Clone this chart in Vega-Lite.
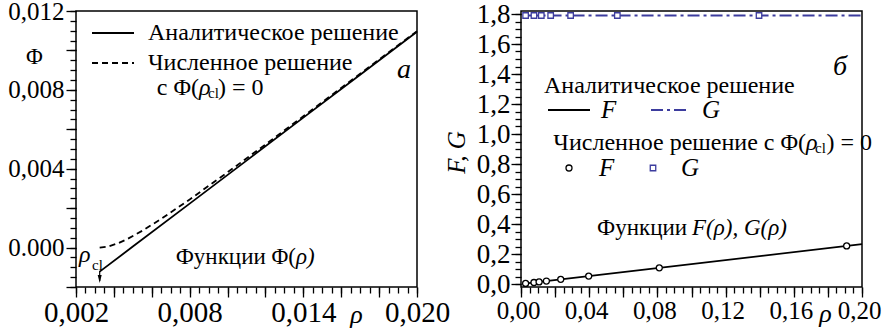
{
  "$schema": "https://vega.github.io/schema/vega-lite/v6.json",
  "autosize": {"type": "pad"},
  "padding": {"left": 7, "top": -2, "right": 0, "bottom": 0},
  "bounds": "flush",
  "spacing": 104,
  "datasets": {
    "phiAnalytic": [
      {"rho": 0.00325, "phi": -0.00122},
      {"rho": 0.005, "phi": 0.00005},
      {"rho": 0.008, "phi": 0.00223},
      {"rho": 0.011, "phi": 0.00441},
      {"rho": 0.014, "phi": 0.00659},
      {"rho": 0.017, "phi": 0.00877},
      {"rho": 0.020, "phi": 0.01095}
    ],
    "phiNumeric": [
      {"rho": 0.00325, "phi": 0.0},
      {"rho": 0.0037, "phi": 0.000056},
      {"rho": 0.0042, "phi": 0.000211},
      {"rho": 0.0047, "phi": 0.000429},
      {"rho": 0.0055, "phi": 0.000852},
      {"rho": 0.0065, "phi": 0.001456},
      {"rho": 0.008, "phi": 0.00244},
      {"rho": 0.010, "phi": 0.00382},
      {"rho": 0.012, "phi": 0.00523},
      {"rho": 0.014, "phi": 0.00666},
      {"rho": 0.017, "phi": 0.00882},
      {"rho": 0.020, "phi": 0.01098}
    ],
    "fAnalytic": [
      {"rho": 0.00325, "F": 0.0043},
      {"rho": 0.2, "F": 0.266}
    ],
    "gAnalytic": [
      {"rho": 0.00325, "G": 1.79},
      {"rho": 0.2, "G": 1.79}
    ],
    "fNumeric": [
      {"rho": 0.0027, "F": 0.0036},
      {"rho": 0.0076, "F": 0.0101},
      {"rho": 0.0106, "F": 0.0141},
      {"rho": 0.0149, "F": 0.0198},
      {"rho": 0.0233, "F": 0.0310},
      {"rho": 0.0397, "F": 0.0528},
      {"rho": 0.0811, "F": 0.1079},
      {"rho": 0.1910, "F": 0.2540}
    ],
    "gNumeric": [
      {"rho": 0.0027, "G": 1.79},
      {"rho": 0.0076, "G": 1.79},
      {"rho": 0.0119, "G": 1.79},
      {"rho": 0.0174, "G": 1.79},
      {"rho": 0.0291, "G": 1.79},
      {"rho": 0.0565, "G": 1.79},
      {"rho": 0.1396, "G": 1.79}
    ]
  },
  "hconcat": [
    {
      "width": 341,
      "height": 276,
      "data": {"values": [{}]},
      "layer": [
        {
          "data": {"name": "phiAnalytic"},
          "mark": {"type": "line", "color": "#000", "strokeWidth": 1.8},
          "encoding": {
            "x": {"field": "rho", "type": "quantitative",
              "scale": {"domain": [0.002, 0.020], "nice": false, "zero": false},
              "axis": {"orient": "bottom", "values": [0.002, 0.004, 0.006, 0.008, 0.01, 0.012, 0.014, 0.016, 0.018, 0.02],
                "tickSize": 10, "labelFontSize": 29, "labelPadding": 1,
                "labelExpr": "round(datum.value*1000) % 6 == 2 ? replace(format(datum.value, '.3f'), '.', ',') : ''",
                "title": "ρ", "titleFontStyle": "italic", "titleFontSize": 26, "titleX": 280, "titleY": 35,
                "titleAlign": "center", "titleBaseline": "alphabetic"}},
            "y": {"field": "phi", "type": "quantitative",
              "scale": {"domain": [-0.002, 0.012], "nice": false, "zero": false},
              "axis": {"orient": "left", "values": [-0.002, 0, 0.002, 0.004, 0.006, 0.008, 0.01, 0.012],
                "tickSize": 10, "labelFontSize": 25, "labelPadding": 2,
                "labelExpr": "datum.value == 0 ? '0.000' : (datum.value > 0 && round(datum.value*1000) % 4 == 0 ? replace(format(datum.value, '.3f'), '.', ',') : '')",
                "title": "Φ", "titleAngle": 0, "titleFontSize": 23, "titleX": -42, "titleY": 45,
                "titleAlign": "center", "titleBaseline": "middle"}}
          }
        },
        {
          "data": {"name": "phiNumeric"},
          "mark": {"type": "line", "color": "#000", "strokeWidth": 1.8, "strokeDash": [6, 4]},
          "encoding": {
            "x": {"field": "rho", "type": "quantitative",
              "axis": {"orient": "bottom", "tickSize": 6, "labels": false, "title": null,
                "values": [0.002,0.0025,0.003,0.0035,0.004,0.0045,0.005,0.0055,0.006,0.0065,0.007,0.0075,0.008,0.0085,0.009,0.0095,0.01,0.0105,0.011,0.0115,0.012,0.0125,0.013,0.0135,0.014,0.0145,0.015,0.0155,0.016,0.0165,0.017,0.0175,0.018,0.0185,0.019,0.0195,0.02]}},
            "y": {"field": "phi", "type": "quantitative",
              "axis": {"orient": "left", "tickSize": 6, "labels": false, "title": null,
                "values": [-0.002,-0.0015,-0.001,-0.0005,0,0.0005,0.001,0.0015,0.002,0.0025,0.003,0.0035,0.004,0.0045,0.005,0.0055,0.006,0.0065,0.007,0.0075,0.008,0.0085,0.009,0.0095,0.01,0.0105,0.011,0.0115,0.012]}}
          }
        },
        {
          "mark": {"type": "rule", "color": "#000", "strokeWidth": 1.8},
          "encoding": {
            "x": {"datum": 0.002845, "type": "quantitative", "axis": null},
            "x2": {"datum": 0.005062},
            "y": {"datum": 0.010884, "type": "quantitative", "axis": null}
          }
        },
        {
          "mark": {"type": "rule", "color": "#000", "strokeWidth": 1.8, "strokeDash": [6, 4]},
          "encoding": {
            "x": {"datum": 0.002845, "type": "quantitative", "axis": null},
            "x2": {"datum": 0.005062},
            "y": {"datum": 0.009362, "type": "quantitative", "axis": null}
          }
        },
        {
          "mark": {"type": "text", "text": "Аналитическое решение", "align": "left", "baseline": "middle", "fontSize": 24, "color": "#000"},
          "encoding": {"x": {"datum": 0.0058, "type": "quantitative", "axis": null}, "y": {"datum": 0.010884, "type": "quantitative", "axis": null}}
        },
        {
          "mark": {"type": "text", "text": "Численное решение", "align": "left", "baseline": "middle", "fontSize": 24, "color": "#000"},
          "encoding": {"x": {"datum": 0.0058, "type": "quantitative", "axis": null}, "y": {"datum": 0.009362, "type": "quantitative", "axis": null}}
        },
        {
          "mark": {"type": "text", "text": "с Φ(", "align": "right", "baseline": "middle", "fontSize": 24, "color": "#000"},
          "encoding": {"x": {"datum": 0.008493, "type": "quantitative", "axis": null}, "y": {"datum": 0.008094, "type": "quantitative", "axis": null}}
        },
        {
          "mark": {"type": "text", "text": "ρ", "align": "left", "baseline": "middle", "fontSize": 24, "fontStyle": "italic", "color": "#000"},
          "encoding": {"x": {"datum": 0.008493, "type": "quantitative", "axis": null}, "y": {"datum": 0.008094, "type": "quantitative", "axis": null}}
        },
        {
          "mark": {"type": "text", "text": "cl", "align": "left", "baseline": "middle", "fontSize": 15, "color": "#000"},
          "encoding": {"x": {"datum": 0.008968, "type": "quantitative", "axis": null}, "y": {"datum": 0.00784, "type": "quantitative", "axis": null}}
        },
        {
          "mark": {"type": "text", "text": ") = 0", "align": "left", "baseline": "middle", "fontSize": 24, "color": "#000"},
          "encoding": {"x": {"datum": 0.009496, "type": "quantitative", "axis": null}, "y": {"datum": 0.008094, "type": "quantitative", "axis": null}}
        },
        {
          "mark": {"type": "text", "text": "a", "align": "center", "baseline": "middle", "fontSize": 28, "fontStyle": "italic", "color": "#000"},
          "encoding": {"x": {"datum": 0.019314, "type": "quantitative", "axis": null}, "y": {"datum": 0.009007, "type": "quantitative", "axis": null}}
        },
        {
          "mark": {"type": "text", "text": "Функции Φ(", "align": "right", "baseline": "middle", "fontSize": 23, "color": "#000"},
          "encoding": {"x": {"datum": 0.013613, "type": "quantitative", "axis": null}, "y": {"datum": -0.000478, "type": "quantitative", "axis": null}}
        },
        {
          "mark": {"type": "text", "text": "ρ)", "align": "left", "baseline": "middle", "fontSize": 23, "fontStyle": "italic", "color": "#000"},
          "encoding": {"x": {"datum": 0.013613, "type": "quantitative", "axis": null}, "y": {"datum": -0.000478, "type": "quantitative", "axis": null}}
        },
        {
          "mark": {"type": "text", "text": "ρ", "align": "left", "baseline": "alphabetic", "fontSize": 24, "fontStyle": "italic", "color": "#000"},
          "encoding": {"x": {"datum": 0.002158, "type": "quantitative", "axis": null}, "y": {"datum": -0.000732, "type": "quantitative", "axis": null}}
        },
        {
          "mark": {"type": "text", "text": "cl", "align": "left", "baseline": "alphabetic", "fontSize": 15, "color": "#000"},
          "encoding": {"x": {"datum": 0.002845, "type": "quantitative", "axis": null}, "y": {"datum": -0.001138, "type": "quantitative", "axis": null}}
        },
        {
          "mark": {"type": "rule", "color": "#000", "strokeWidth": 1.2},
          "encoding": {
            "x": {"datum": 0.00325, "type": "quantitative", "axis": null},
            "y": {"datum": -0.00119, "type": "quantitative", "axis": null},
            "y2": {"datum": -0.0017}
          }
        },
        {
          "mark": {"type": "point", "shape": "M-0.5,-1L0.5,-1L0,1Z", "size": 64, "filled": true, "color": "#000", "opacity": 1},
          "encoding": {"x": {"datum": 0.00325, "type": "quantitative", "axis": null}, "y": {"datum": -0.001594, "type": "quantitative", "axis": null}}
        }
      ],
      "resolve": {"axis": {"x": "independent", "y": "independent"}}
    },
    {
      "width": 341,
      "height": 276,
      "data": {"values": [{}]},
      "layer": [
        {
          "data": {"name": "fAnalytic"},
          "mark": {"type": "line", "color": "#000", "strokeWidth": 1.8},
          "encoding": {
            "x": {"field": "rho", "type": "quantitative",
              "scale": {"domain": [0, 0.2], "nice": false, "zero": false},
              "axis": {"orient": "bottom", "values": [0, 0.02, 0.04, 0.06, 0.08, 0.1, 0.12, 0.14, 0.16, 0.18, 0.2],
                "tickSize": 10, "labelFontSize": 25, "labelPadding": 1, "labelOffset": -3,
                "labelExpr": "round(datum.value*100) % 4 == 0 ? replace(format(datum.value, '.2f'), '.', ',') : ''",
                "title": "ρ", "titleFontStyle": "italic", "titleFontSize": 26, "titleX": 304, "titleY": 34,
                "titleAlign": "center", "titleBaseline": "alphabetic"}},
            "y": {"field": "F", "type": "quantitative",
              "scale": {"domain": [-0.02, 1.82], "nice": false, "zero": false},
              "axis": {"orient": "left", "values": [0, 0.2, 0.4, 0.6, 0.8, 1.0, 1.2, 1.4, 1.6, 1.8],
                "tickSize": 10, "labelFontSize": 27, "labelPadding": 1,
                "labelExpr": "replace(format(datum.value, '.1f'), '.', ',')",
                "title": "F, G", "titleFontStyle": "italic", "titleAngle": -90, "titleFontSize": 25, "titleX": -65, "titleY": 141,
                "titleAlign": "center", "titleBaseline": "middle"}}
          }
        },
        {
          "data": {"name": "gAnalytic"},
          "mark": {"type": "line", "color": "#3c3c9e", "strokeWidth": 1.8, "strokeDash": [12, 4, 3, 4]},
          "encoding": {
            "x": {"field": "rho", "type": "quantitative",
              "axis": {"orient": "bottom", "tickSize": 6, "labels": false, "title": null,
                "values": [0,0.005,0.01,0.015,0.02,0.025,0.03,0.035,0.04,0.045,0.05,0.055,0.06,0.065,0.07,0.075,0.08,0.085,0.09,0.095,0.1,0.105,0.11,0.115,0.12,0.125,0.13,0.135,0.14,0.145,0.15,0.155,0.16,0.165,0.17,0.175,0.18,0.185,0.19,0.195,0.2]}},
            "y": {"field": "G", "type": "quantitative",
              "axis": {"orient": "left", "tickSize": 6, "labels": false, "title": null,
                "values": [0,0.05,0.1,0.15,0.2,0.25,0.3,0.35,0.4,0.45,0.5,0.55,0.6,0.65,0.7,0.75,0.8,0.85,0.9,0.95,1.0,1.05,1.1,1.15,1.2,1.25,1.3,1.35,1.4,1.45,1.5,1.55,1.6,1.65,1.7,1.75,1.8]}}
          }
        },
        {
          "data": {"name": "fNumeric"},
          "mark": {"type": "point", "shape": "circle", "size": 36, "filled": true, "fill": "#fff", "stroke": "#000", "strokeWidth": 1.3, "opacity": 1},
          "encoding": {
            "x": {"field": "rho", "type": "quantitative", "axis": null},
            "y": {"field": "F", "type": "quantitative", "axis": null}
          }
        },
        {
          "data": {"name": "gNumeric"},
          "mark": {"type": "point", "shape": "square", "size": 30, "filled": true, "fill": "#fff", "stroke": "#3c3c9e", "strokeWidth": 1.3, "opacity": 1},
          "encoding": {
            "x": {"field": "rho", "type": "quantitative", "axis": null},
            "y": {"field": "G", "type": "quantitative", "axis": null}
          }
        },
        {
          "mark": {"type": "text", "text": "Аналитическое решение", "align": "left", "baseline": "middle", "fontSize": 24, "color": "#000"},
          "encoding": {"x": {"datum": 0.01349, "type": "quantitative", "axis": null}, "y": {"datum": 1.32, "type": "quantitative", "axis": null}}
        },
        {
          "mark": {"type": "rule", "color": "#000", "strokeWidth": 1.8},
          "encoding": {
            "x": {"datum": 0.01584, "type": "quantitative", "axis": null},
            "x2": {"datum": 0.04047},
            "y": {"datum": 1.16, "type": "quantitative", "axis": null}
          }
        },
        {
          "mark": {"type": "text", "text": "F", "align": "left", "baseline": "middle", "fontSize": 25, "fontStyle": "italic", "color": "#000"},
          "encoding": {"x": {"datum": 0.0469, "type": "quantitative", "axis": null}, "y": {"datum": 1.16, "type": "quantitative", "axis": null}}
        },
        {
          "mark": {"type": "rule", "color": "#3c3c9e", "strokeWidth": 1.8, "strokeDash": [12, 4, 3, 4]},
          "encoding": {
            "x": {"datum": 0.07625, "type": "quantitative", "axis": null},
            "x2": {"datum": 0.09853},
            "y": {"datum": 1.16, "type": "quantitative", "axis": null}
          }
        },
        {
          "mark": {"type": "text", "text": "G", "align": "left", "baseline": "middle", "fontSize": 25, "fontStyle": "italic", "color": "#000"},
          "encoding": {"x": {"datum": 0.1062, "type": "quantitative", "axis": null}, "y": {"datum": 1.16, "type": "quantitative", "axis": null}}
        },
        {
          "mark": {"type": "text", "text": "Численное решение с Φ(", "align": "right", "baseline": "middle", "fontSize": 24, "color": "#000"},
          "encoding": {"x": {"datum": 0.16716, "type": "quantitative", "axis": null}, "y": {"datum": 0.94, "type": "quantitative", "axis": null}}
        },
        {
          "mark": {"type": "text", "text": "ρ", "align": "left", "baseline": "middle", "fontSize": 24, "fontStyle": "italic", "color": "#000"},
          "encoding": {"x": {"datum": 0.16716, "type": "quantitative", "axis": null}, "y": {"datum": 0.94, "type": "quantitative", "axis": null}}
        },
        {
          "mark": {"type": "text", "text": "cl", "align": "left", "baseline": "middle", "fontSize": 15, "color": "#000"},
          "encoding": {"x": {"datum": 0.17243, "type": "quantitative", "axis": null}, "y": {"datum": 0.9067, "type": "quantitative", "axis": null}}
        },
        {
          "mark": {"type": "text", "text": ") = 0", "align": "left", "baseline": "middle", "fontSize": 24, "color": "#000"},
          "encoding": {"x": {"datum": 0.17918, "type": "quantitative", "axis": null}, "y": {"datum": 0.94, "type": "quantitative", "axis": null}}
        },
        {
          "mark": {"type": "point", "shape": "circle", "size": 36, "filled": true, "fill": "#fff", "stroke": "#000", "strokeWidth": 1.3, "opacity": 1},
          "encoding": {"x": {"datum": 0.02815, "type": "quantitative", "axis": null}, "y": {"datum": 0.7733, "type": "quantitative", "axis": null}}
        },
        {
          "mark": {"type": "text", "text": "F", "align": "left", "baseline": "middle", "fontSize": 25, "fontStyle": "italic", "color": "#000"},
          "encoding": {"x": {"datum": 0.04575, "type": "quantitative", "axis": null}, "y": {"datum": 0.7733, "type": "quantitative", "axis": null}}
        },
        {
          "mark": {"type": "point", "shape": "square", "size": 30, "filled": true, "fill": "#fff", "stroke": "#3c3c9e", "strokeWidth": 1.3, "opacity": 1},
          "encoding": {"x": {"datum": 0.07742, "type": "quantitative", "axis": null}, "y": {"datum": 0.7733, "type": "quantitative", "axis": null}}
        },
        {
          "mark": {"type": "text", "text": "G", "align": "left", "baseline": "middle", "fontSize": 25, "fontStyle": "italic", "color": "#000"},
          "encoding": {"x": {"datum": 0.09384, "type": "quantitative", "axis": null}, "y": {"datum": 0.7733, "type": "quantitative", "axis": null}}
        },
        {
          "mark": {"type": "text", "text": "б", "align": "center", "baseline": "middle", "fontSize": 28, "fontStyle": "italic", "color": "#000"},
          "encoding": {"x": {"datum": 0.1871, "type": "quantitative", "axis": null}, "y": {"datum": 1.4467, "type": "quantitative", "axis": null}}
        },
        {
          "mark": {"type": "text", "text": "Функции", "align": "left", "baseline": "middle", "fontSize": 23, "color": "#000"},
          "encoding": {"x": {"datum": 0.04457, "type": "quantitative", "axis": null}, "y": {"datum": 0.3733, "type": "quantitative", "axis": null}}
        },
        {
          "mark": {"type": "text", "text": "F(ρ), G(ρ)", "align": "left", "baseline": "middle", "fontSize": 23, "fontStyle": "italic", "color": "#000"},
          "encoding": {"x": {"datum": 0.1003, "type": "quantitative", "axis": null}, "y": {"datum": 0.3733, "type": "quantitative", "axis": null}}
        }
      ],
      "resolve": {"axis": {"x": "independent", "y": "independent"}}
    }
  ],
  "config": {
    "font": "Liberation Serif",
    "view": {"stroke": "#000", "strokeWidth": 1.5},
    "axis": {
      "grid": false, "domain": false, "tickColor": "#000", "tickWidth": 1.3,
      "labelColor": "#000", "titleColor": "#000", "labelFont": "Liberation Serif", "titleFont": "Liberation Serif",
      "titleFontWeight": "normal", "labelOverlap": false, "labelFlush": false
    },
    "text": {"font": "Liberation Serif"}
  }
}
